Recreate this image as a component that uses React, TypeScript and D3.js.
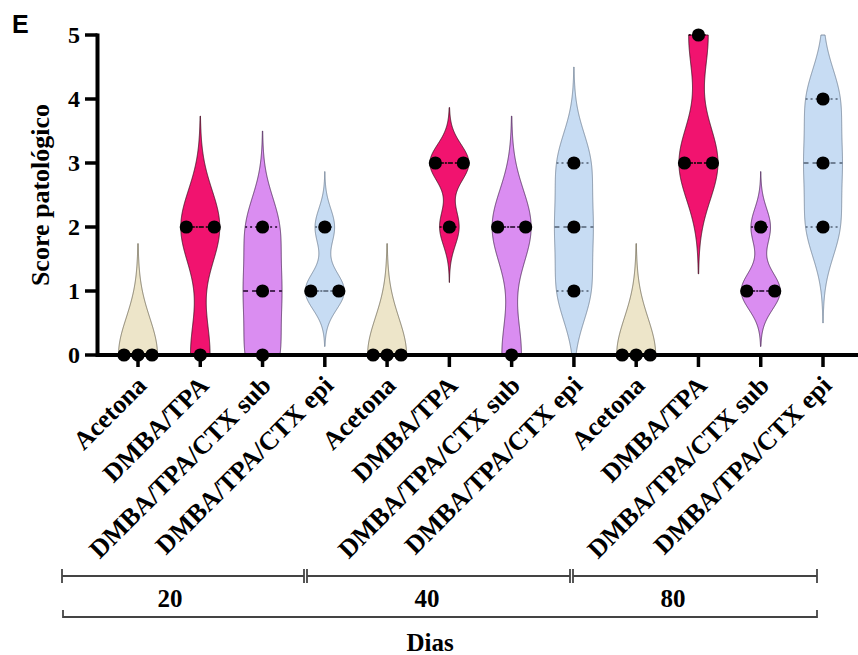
import React from 'react';
import * as d3 from 'd3';

const treatments = ['Acetona', 'DMBA/TPA', 'DMBA/TPA/CTX sub', 'DMBA/TPA/CTX epi'];
const days = ['20', '40', '80'];
const scores20 = [[0, 0, 0], [2, 2, 0], [2, 1, 0], [2, 1, 1]];
const scores40 = [[0, 0, 0], [3, 3, 2], [2, 2, 0], [3, 2, 1]];
const scores80 = [[0, 0, 0], [5, 3, 3], [2, 1, 1], [4, 3, 2]];
const yTicks = [0, 1, 2, 3, 4, 5];
const fills = ['#ede5c9', '#f1136f', '#da8df1', '#c7dcf3'];
const strokes = ['#6b6450', '#3a0b1c', '#4a2656', '#6f7f93'];

const W = 858;
const H = 655;
const serif = "'Liberation Serif', 'Times New Roman', serif";

// bandwidth like prism: half of sample sd, with a fallback for zero spread
function bandwidth(v: number[]) {
  const sd = d3.deviation(v) || 0;
  return sd > 0 ? sd * 0.5 : 0.58;
}

function kde(v: number[], h: number) {
  return (t: number) => d3.sum(v, d => Math.exp(-((t - d) ** 2) / (2 * h * h)));
}

function quart(v: number[], p: number) {
  const s = v.slice().sort(d3.ascending);
  const pos = Math.min(Math.max((s.length + 1) * p, 1), s.length) - 1;
  const lo = Math.floor(pos);
  const hi = Math.min(lo + 1, s.length - 1);
  return s[lo] + (s[hi] - s[lo]) * (pos - lo);
}

export default function App() {
  const groups = [scores20, scores40, scores80];
  const cats = days.flatMap((d, gi) => treatments.map((t, ti) => ({
    key: `${d}-${ti}`, label: t, values: groups[gi][ti], ti,
  })));

  const x = d3.scalePoint<string>().domain(cats.map(c => c.key)).range([138, 823]);
  const y = d3.scaleLinear().domain([0, 5]).range([355, 35]);
  const maxHalf = 19.5;

  const violins = cats.map(c => {
    const h = bandwidth(c.values);
    const f = kde(c.values, h);
    const lo = Math.max(0, d3.min(c.values)! - 3 * h);
    const hi = Math.min(5, d3.max(c.values)! + 3 * h);
    const samples = d3.range(lo, hi, 0.01).concat([hi]);
    const peak = d3.max(samples, f)!;
    const half = (t: number) => (f(t) / peak) * maxHalf;
    const cx = x(c.key)!;
    const area = d3.area<number>()
      .y(t => y(t))
      .x0(t => cx - half(t))
      .x1(t => cx + half(t));
    const lines = [
      { v: quart(c.values, 0.25), dash: '2,3' },
      { v: quart(c.values, 0.75), dash: '2,3' },
      { v: quart(c.values, 0.5), dash: '5,4' },
    ];
    // spread identical values horizontally
    const counts = d3.rollup(c.values, g => g.length, d => d);
    const seen = new Map<number, number>();
    const dots = c.values.map(v => {
      const k = counts.get(v)!;
      const i = seen.get(v) || 0;
      seen.set(v, i + 1);
      const off = k === 1 ? 0 : -14 + (i * 28) / (k - 1);
      return { cx: cx + off, cy: y(v) };
    });
    return { ...c, cx, path: area(samples)!, lines: lines.map(l => ({ ...l, w: half(l.v) })), dots };
  });

  const brackets = [[62, 304], [307, 570], [573, 817]];
  const dayX = [170, 427, 673];

  return (
    <svg width={W} height={H} style={{ position: 'absolute', left: 0, top: 0, background: '#fff' }}>
      <text x={12} y={33} fontFamily="'Liberation Sans', Arial, sans-serif" fontWeight="bold" fontSize={25}>E</text>

      {violins.map(v => (
        <g key={v.key}>
          <path d={v.path} fill={fills[v.ti]} stroke={strokes[v.ti]} strokeWidth={0.8} />
          {v.lines.map((l, i) => (
            <line key={i} x1={v.cx - l.w} x2={v.cx + l.w} y1={y(l.v)} y2={y(l.v)}
              stroke={strokes[v.ti]} strokeWidth={1.8} strokeDasharray={l.dash} />
          ))}
          {v.dots.map((d, i) => (
            <circle key={i} cx={d.cx} cy={d.cy} r={6.6} fill="#000" />
          ))}
        </g>
      ))}

      {/* y axis */}
      <line x1={97.5} x2={97.5} y1={y(5) - 1.5} y2={y(0) + 2} stroke="#000" strokeWidth={4} />
      {yTicks.map(t => (
        <g key={t}>
          <line x1={85} x2={97.5} y1={y(t)} y2={y(t)} stroke="#000" strokeWidth={3.5} />
          <text x={80} y={y(t)} dy="0.35em" textAnchor="end" fontFamily={serif} fontWeight="bold" fontSize={24}>{t}</text>
        </g>
      ))}
      <text transform="translate(49,195) rotate(-90)" textAnchor="middle" fontFamily={serif} fontWeight="bold" fontSize={26}>Score patológico</text>

      {/* x axis */}
      <line x1={96} x2={W} y1={y(0)} y2={y(0)} stroke="#000" strokeWidth={4} />
      {cats.map(c => (
        <g key={c.key}>
          <line x1={x(c.key)} x2={x(c.key)} y1={y(0)} y2={y(0) + 12} stroke="#000" strokeWidth={3.5} />
          <text transform={`translate(${x(c.key)! + 10},${y(0) + 32}) rotate(-45)`} textAnchor="end"
            fontFamily={serif} fontWeight="bold" fontSize={26}>{c.label}</text>
        </g>
      ))}

      {/* day brackets */}
      {brackets.map(([a, b], i) => (
        <g key={i} stroke="#444" strokeWidth={1.8}>
          <line x1={a} x2={b} y1={576} y2={576} />
          <line x1={a} x2={a} y1={569} y2={583} />
          <line x1={b} x2={b} y1={569} y2={583} />
        </g>
      ))}
      {days.map((d, i) => (
        <text key={d} x={dayX[i]} y={607} textAnchor="middle" fontFamily={serif} fontWeight="bold" fontSize={25}>{d}</text>
      ))}
      <g stroke="#444" strokeWidth={1.8}>
        <line x1={63} x2={817} y1={617} y2={617} />
        <line x1={63} x2={63} y1={610} y2={618} />
        <line x1={817} x2={817} y1={610} y2={618} />
      </g>
      <text x={430} y={651} textAnchor="middle" fontFamily={serif} fontWeight="bold" fontSize={25}>Dias</text>
    </svg>
  );
}
